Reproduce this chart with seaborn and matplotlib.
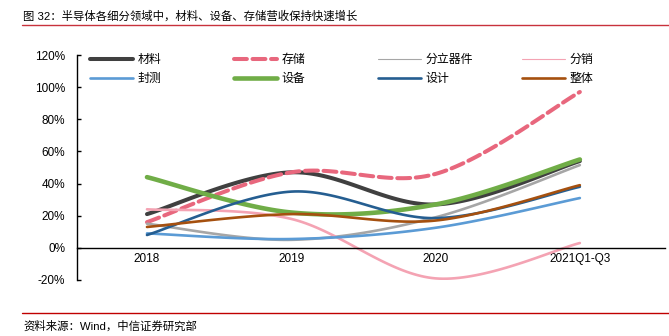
import numpy as np
import pandas as pd
import matplotlib
matplotlib.use("Agg")
import matplotlib.pyplot as plt
import seaborn as sns
from matplotlib.lines import Line2D
from matplotlib.ticker import FuncFormatter

# ---------------- data ----------------
categories = ['2018', '2019', '2020', '2021Q1-Q3']
cailiao = [21, 47, 27, 54]        # 材料
cunchu = [16, 47, 46, 97]         # 存储
fenli = [15, 5, 19, 51.5]         # 分立器件
fenxiao = [24, 18, -19, 3]        # 分销
fengce = [9, 5.5, 12.5, 31]       # 封测
shebei = [44, 22, 27, 55]         # 设备
sheji = [8, 35, 18.5, 38]         # 设计
zhengti = [13, 21, 17, 39]        # 整体

series_names = ['材料', '存储', '分立器件', '分销', '封测', '设备', '设计', '整体']
series_values = [cailiao, cunchu, fenli, fenxiao, fengce, shebei, sheji, zhengti]
y_ticks = [-20, 0, 20, 40, 60, 80, 100, 120]

styles = {
    '材料': dict(color='#404040', lw=2.9),
    '存储': dict(color='#E8677D', lw=2.9, dashes=(3.2, 1.4)),
    '分立器件': dict(color='#A6A6A6', lw=1.9, leg_lw=0.8),
    '分销': dict(color='#F4A3B3', lw=1.9, leg_lw=0.8),
    '封测': dict(color='#5B9BD5', lw=1.9),
    '设备': dict(color='#70AD47', lw=3.3),
    '设计': dict(color='#255E91', lw=1.9),
    '整体': dict(color='#A5500F', lw=1.9),
}


def smooth_curve(xs, ys, n=40):
    """Excel-like smoothed line (Catmull-Rom converted to cubic Bezier)."""
    pts = np.column_stack([xs, ys]).astype(float)
    out = []
    m = len(pts)
    for i in range(m - 1):
        p0 = pts[i - 1] if i > 0 else pts[i]
        p1 = pts[i]
        p2 = pts[i + 1]
        p3 = pts[i + 2] if i + 2 < m else pts[i + 1]
        c1 = p1 + (p2 - p0) / 6.0
        c2 = p2 - (p3 - p1) / 6.0
        t = np.linspace(0, 1, n, endpoint=(i == m - 2))[:, None]
        seg = ((1 - t) ** 3) * p1 + 3 * ((1 - t) ** 2) * t * c1 + 3 * (1 - t) * t ** 2 * c2 + t ** 3 * p2
        out.append(seg)
    out = np.vstack(out)
    return out[:, 0], out[:, 1]


sns.set_theme(style='white')
plt.rcParams['font.family'] = ['Liberation Sans', 'Noto Sans CJK SC']
plt.rcParams['axes.unicode_minus'] = False

W, H = 669, 336
fig = plt.figure(figsize=(W / 100, H / 100), dpi=100)
ax = fig.add_axes([77 / W, 1 - 280 / H, (665 - 77) / W, (280 - 55) / H])

xpos = np.arange(len(categories))
handles = {}
for name, vals in zip(series_names, series_values):
    st = styles[name]
    sx, sy = smooth_curve(xpos, vals)
    df = pd.DataFrame({'x': sx, 'y': sy})
    sns.lineplot(data=df, x='x', y='y', ax=ax, sort=False, estimator=None,
                 color=st['color'], lw=st['lw'])
    line = ax.lines[-1]
    line.set_solid_capstyle('round')
    if 'dashes' in st:
        line.set_dashes(st['dashes'])
        line.set_dash_capstyle('round')
    h = Line2D([], [], color=st['color'], lw=st.get('leg_lw', st['lw']),
               solid_capstyle='round', dash_capstyle='round')
    if 'dashes' in st:
        h.set_dashes(st['dashes'])
    handles[name] = h

ax.set_xlim(-0.485, 3.59)
ax.set_ylim(-20, 120)
ax.set_xticks(xpos)
ax.set_xticklabels(categories)
ax.set_yticks(y_ticks)
ax.yaxis.set_major_formatter(FuncFormatter(lambda v, p: f'{int(v)}%'))
ax.set_xlabel('')
ax.set_ylabel('')

for s in ['top', 'right']:
    ax.spines[s].set_visible(False)
ax.spines['bottom'].set_position(('data', 0))
for s in ['left', 'bottom']:
    ax.spines[s].set_color('black')
    ax.spines[s].set_linewidth(1.0)

ax.tick_params(axis='y', direction='in', length=3, width=1.0, color='black',
               left=True, pad=8.5, labelsize=8.5, labelcolor='black')
ax.tick_params(axis='x', length=0, pad=4, labelsize=8.5, labelcolor='black')

# legend: 4 columns, each its own legend at fixed positions
col_x = [90, 234, 378, 522]
columns = [['材料', '封测'], ['存储', '设备'], ['分立器件', '设计'], ['分销', '整体']]
for cx, names in zip(col_x, columns):
    fig.legend([handles[n] for n in names], names,
               loc='upper left', bbox_to_anchor=(cx / W, 1 - 54 / H),
               frameon=False, fontsize=8.6, handlelength=3.6,
               handletextpad=0.4, labelspacing=0.6, borderpad=0,
               borderaxespad=0, labelcolor='black')

# title and footer
fig.text(23 / W, 1 - 16 / H, '图 32：半导体各细分领域中，材料、设备、存储营收保持快速增长',
         fontsize=8.2, va='center', ha='left', color='black')
fig.add_artist(Line2D([22 / W, 1.0], [1 - 25 / H, 1 - 25 / H], transform=fig.transFigure,
                      color='#C8323C', lw=1.0))
fig.add_artist(Line2D([22 / W, 1.0], [1 - 313 / H, 1 - 313 / H], transform=fig.transFigure,
                      color='#C00000', lw=1.0))
fig.text(23 / W, 1 - 326 / H, '资料来源：Wind，中信证券研究部',
         fontsize=8.2, va='center', ha='left', color='black')

fig.savefig('out.png', dpi=100)
